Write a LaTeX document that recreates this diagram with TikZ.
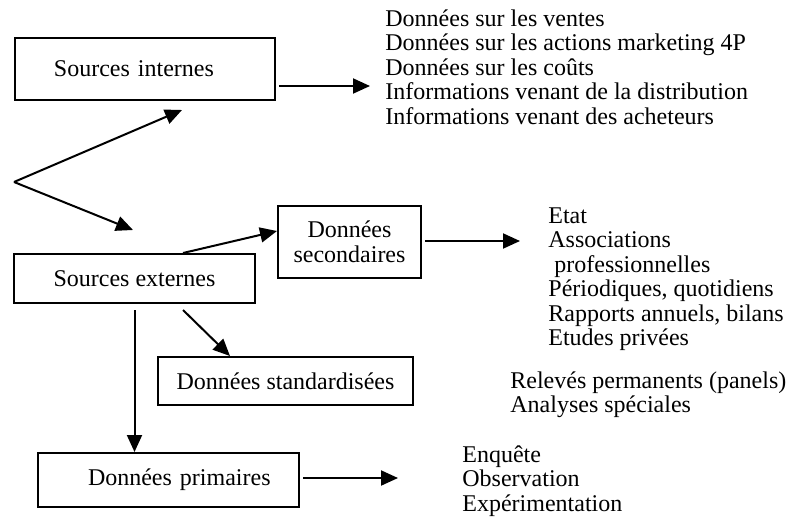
\documentclass[tikz,border=0pt]{standalone}
\usepackage{fontspec}
\setmainfont{Liberation Serif}
\usetikzlibrary{arrows.meta,calc}
\begin{document}
\begin{tikzpicture}[x=0.5pt,y=-0.5pt,
  every node/.style={font=\fontsize{12}{12.25}\selectfont},
  box/.style={draw,line width=1pt,inner sep=0pt,anchor=north west},
  list/.style={anchor=north west,inner sep=0pt,align=left},
  arr/.style={line width=1pt,-{Triangle[length=8.5pt,width=7.5pt]}}]
\useasboundingbox (0,0) rectangle (787,520);

% boxes
\node[box,minimum width=130pt,minimum height=31pt,text width=130pt,align=left] (si) at (14,37) {\hspace*{19.5pt}Sources internes};
\node[box,minimum width=120.5pt,minimum height=24.5pt] (se) at (13,253) {Sources externes};
\node[box,minimum width=71.5pt,minimum height=36pt,align=center] (ds) at (277,205) {Données\\secondaires};
\node[box,minimum width=127.5pt,minimum height=24pt] (dst) at (157,356) {Données standardisées};
\node[box,minimum width=130.5pt,minimum height=27pt,text width=130.5pt,align=left] (dp) at (37,452) {\hspace*{25pt}Données primaires};

% lists of data
\node[list] (l1) at (385,9) {Données sur les ventes\\Données sur les actions marketing 4P\\Données sur les coûts\\Informations venant de la distribution\\Informations venant des acheteurs};
\node[list] (l2) at (548,207) {Etat\\Associations\\\hspace*{0.25em}professionnelles\\Périodiques, quotidiens\\Rapports annuels, bilans\\Etudes privées};
\node[list] (l3) at (510,371) {Relevés permanents (panels)\\Analyses spéciales};
\node[list] (l4) at (462,445) {Enquête\\Observation\\Expérimentation};

% connectors
\coordinate (p1) at ([xshift=1.5pt,yshift=-8.5pt]si.east);
\draw[arr,shorten >=7.5pt] (p1) -- (p1 -| l1.west);

\coordinate (fork) at (14,182);
\coordinate (tipI) at (182,110);
\coordinate (tipE) at (133,230);
\draw[arr] (fork) -- (tipI);
\draw[arr] (fork) -- (tipE);

\draw[arr] ([xshift=24.25pt]se.north) -- ([yshift=5.5pt]ds.west);
\draw[arr,shorten <=3pt] (se.south) -- (se.south |- dp.north);
\draw[arr] ([xshift=24.25pt,yshift=-3pt]se.south) -- ([xshift=36.5pt]dst.north west);

\coordinate (p2) at ([xshift=1.5pt,yshift=0.5pt]ds.east);
\draw[arr,shorten >=14pt] (p2) -- (p2 -| l2.west);

\coordinate (p4) at ([xshift=1.5pt,yshift=1pt]dp.east);
\draw[arr,shorten >=32pt] (p4) -- (p4 -| l4.west);
\end{tikzpicture}
\end{document}
